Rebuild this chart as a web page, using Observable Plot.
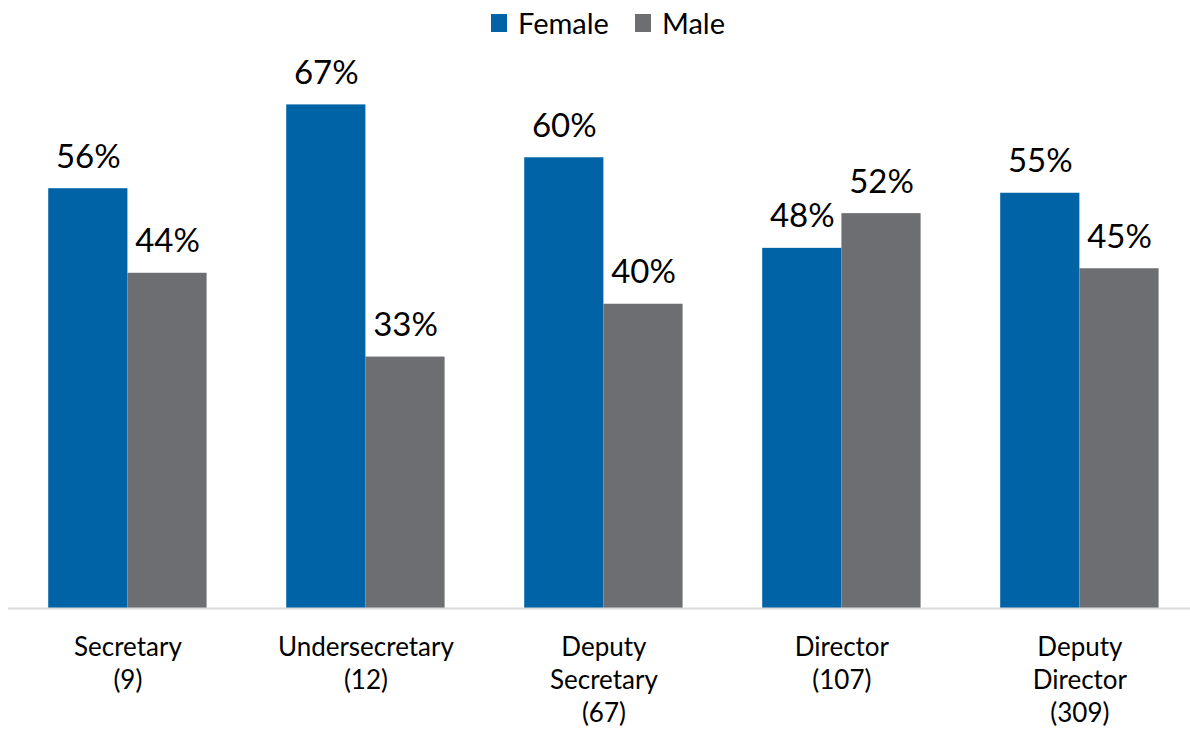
<!DOCTYPE html>
<html>
<head>
<meta charset="utf-8">
<script src="https://cdn.jsdelivr.net/npm/d3@7"></script>
<script src="https://cdn.jsdelivr.net/npm/@observablehq/plot@0.6"></script>
<style>
  html, body { margin: 0; padding: 0; background: #fff; }
  body { width: 1190px; height: 732px; overflow: hidden; font-family: Lato, "Open Sans", sans-serif; }
  #legend { height: 45px; display: flex; justify-content: center; align-items: center; padding-left: 26px; box-sizing: border-box; font-size: 29px; color: #000; }
  .item { display: flex; align-items: center; margin: 0 13px; }
  .sw { width: 16px; height: 18px; margin-right: 11px; }
  svg { display: block; }
</style>
</head>
<body>
<div id="legend"></div>
<div id="chart"></div>
<script>
const categories = ["Secretary", "Undersecretary", "Deputy Secretary", "Director", "Deputy Director"];
const counts = [9, 12, 67, 107, 309];
const tickLabels = ["Secretary\n(9)", "Undersecretary\n(12)", "Deputy\nSecretary\n(67)", "Director\n(107)", "Deputy\nDirector\n(309)"];
const female = [55.6, 66.7, 59.7, 47.7, 55.0];
const male = [44.4, 33.3, 40.3, 52.3, 45.0];
const series = ["Female", "Male"];
const colors = ["#0063a6", "#6d6e71"];

const rows = [];
categories.forEach((c, i) => {
  rows.push({category: c, gender: "Female", value: female[i]});
  rows.push({category: c, gender: "Male", value: male[i]});
});
const labelOf = new Map(categories.map((c, i) => [c, tickLabels[i]]));

// legend
const legend = document.getElementById("legend");
series.forEach((s, i) => {
  const it = document.createElement("div");
  it.className = "item";
  const sw = document.createElement("div");
  sw.className = "sw";
  sw.style.background = colors[i];
  const t = document.createElement("span");
  t.textContent = s;
  it.appendChild(sw); it.appendChild(t);
  legend.appendChild(it);
});

const W = 1190, H = 687;
const half = 79.2;
const fem = rows.filter(d => d.gender === "Female");
const mal = rows.filter(d => d.gender === "Male");

const chart = Plot.plot({
  width: W,
  height: H,
  marginLeft: 8,
  marginRight: 0,
  marginTop: 34.5,
  marginBottom: 124,
  style: {fontFamily: "Lato, 'Open Sans', sans-serif", background: "#fff"},
  x: {domain: categories, range: [8, 1198.8], round: false, paddingInner: 0.3345, paddingOuter: 0.169, label: null},
  y: {domain: [0, 70], axis: null},
  color: {domain: series, range: colors},
  marks: [
    Plot.barY(fem, {x: "category", y: "value", fill: "gender", insetRight: half}),
    Plot.barY(mal, {x: "category", y: "value", fill: "gender", insetLeft: half}),
    Plot.ruleY([0], {stroke: "#d9d9d9", strokeWidth: 2}),
    Plot.text(fem, {x: "category", y: "value", text: d => Math.round(d.value) + "%", dx: -half / 2, dy: -21, lineAnchor: "bottom", fontSize: 33, fill: "#000"}),
    Plot.text(mal, {x: "category", y: "value", text: d => Math.round(d.value) + "%", dx: half / 2, dy: -21, lineAnchor: "bottom", fontSize: 33, fill: "#000"}),
    Plot.axisX({tickSize: 0, tickPadding: 24, fontSize: 26, lineHeight: 1.27, tickFormat: d => labelOf.get(d), label: null, fill: "#000", color: "#000"})
  ]
});
document.getElementById("chart").appendChild(chart);
</script>
</body>
</html>
